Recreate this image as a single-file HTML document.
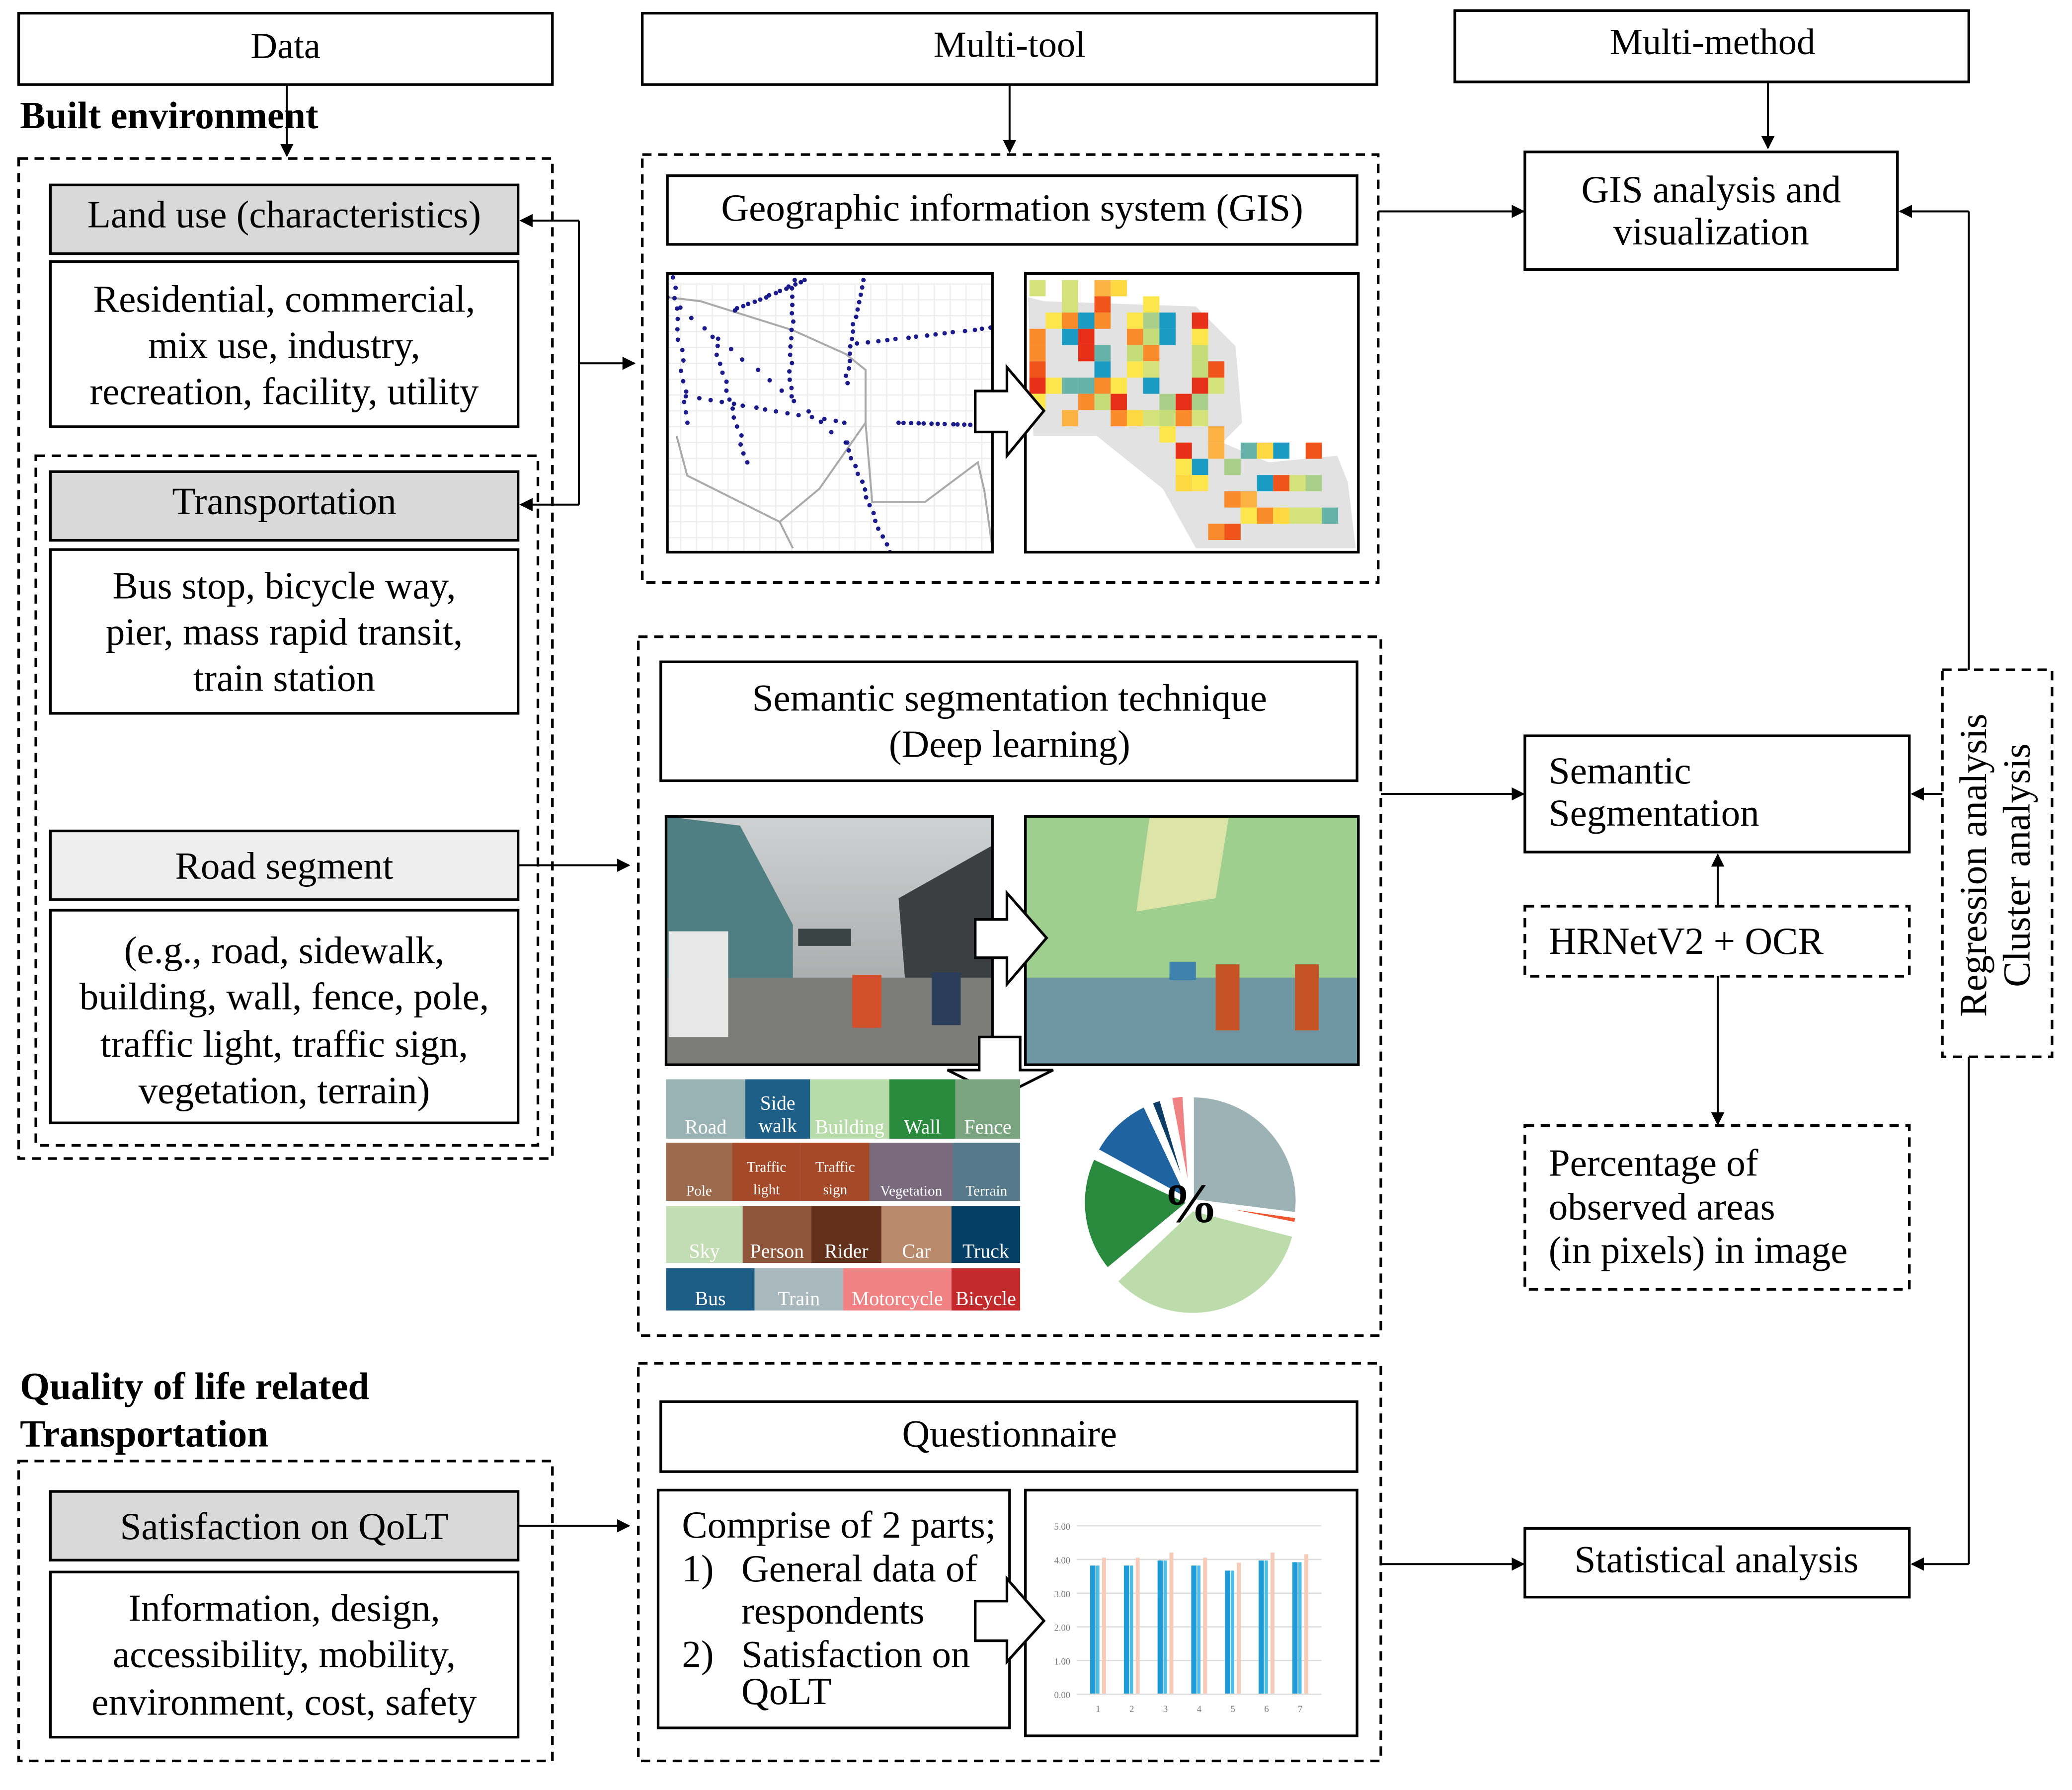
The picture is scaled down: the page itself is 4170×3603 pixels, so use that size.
<!DOCTYPE html>
<html><head><meta charset="utf-8"><style>
html,body{margin:0;padding:0;background:#fff;}
svg{display:block;}
text{font-family:"Liberation Serif",serif;}
</style></head><body>
<svg id="s" xmlns="http://www.w3.org/2000/svg" width="4170" height="3603" viewBox="0 0 1568 1355">
<defs>
<marker id="a" markerWidth="10" markerHeight="10" refX="9" refY="5" orient="auto" markerUnits="userSpaceOnUse"><path d="M0,0 L10,5 L0,10 z" fill="#000"/></marker>
<clipPath id="c1"><rect x="505" y="207" width="246" height="211"/></clipPath>
<clipPath id="c2"><rect x="776" y="207" width="252" height="211"/></clipPath>
<linearGradient id="sky" x1="0" y1="0" x2="0" y2="1"><stop offset="0" stop-color="#cfd2d2"/><stop offset="1" stop-color="#9a9c9c"/></linearGradient>
</defs>
<g fill="none" stroke="#000" stroke-width="2">
<rect x="14" y="10" width="404" height="54"/>
<rect x="486" y="10" width="556" height="54"/>
<rect x="1101" y="8" width="389" height="54"/>
</g>
<g font-size="28" text-anchor="middle" fill="#000">
<text x="216" y="44">Data</text>
<text x="764" y="43">Multi-tool</text>
<text x="1296" y="41">Multi-method</text>
</g>
<g stroke="#000" stroke-width="1.5" fill="none" marker-end="url(#a)">
<line x1="217" y1="64" x2="217" y2="118"/>
<line x1="764" y1="64" x2="764" y2="115"/>
<line x1="1338" y1="62" x2="1338" y2="112"/>
<line x1="438" y1="275" x2="480" y2="275"/>
<line x1="438" y1="167" x2="394" y2="167"/>
<line x1="438" y1="382" x2="394" y2="382"/>
<line x1="392" y1="655" x2="476" y2="655"/>
<line x1="392" y1="1155" x2="476" y2="1155"/>
<line x1="1043" y1="160" x2="1153" y2="160"/>
<line x1="1045" y1="601" x2="1153" y2="601"/>
<line x1="1045" y1="1184" x2="1153" y2="1184"/>
<line x1="1490" y1="160" x2="1438" y2="160"/>
<line x1="1490" y1="1184" x2="1447" y2="1184"/>
<line x1="1470" y1="601" x2="1447" y2="601"/>
<line x1="1300" y1="686" x2="1300" y2="647"/>
<line x1="1300" y1="739" x2="1300" y2="851"/>
</g>
<g stroke="#000" stroke-width="1.5" fill="none">
<line x1="438" y1="167" x2="438" y2="382"/>
<line x1="1490" y1="507" x2="1490" y2="160"/>
<line x1="1490" y1="800" x2="1490" y2="1184"/>
</g>
<g fill="#000" font-size="29" font-weight="bold">
<text x="15" y="97">Built environment</text>
<text x="15" y="1059">Quality of life related</text>
<text x="15" y="1095">Transportation</text>
</g>
<g fill="none" stroke="#000" stroke-width="2" stroke-dasharray="7,5">
<rect x="14" y="120" width="404" height="757"/>
<rect x="27" y="345" width="380" height="522"/>
<rect x="486" y="117" width="557" height="324"/>
<rect x="483" y="482" width="562" height="529"/>
<rect x="1154" y="686" width="291" height="53"/>
<rect x="1154" y="852" width="291" height="124"/>
<rect x="1470" y="507" width="83" height="293"/>
<rect x="14" y="1106" width="404" height="227"/>
<rect x="483" y="1032" width="562" height="301"/>
</g>
<g stroke="#000" stroke-width="2">
<rect x="38" y="140" width="354" height="52" fill="#d9d9d9"/>
<rect x="38" y="198" width="354" height="125" fill="#fff"/>
<rect x="38" y="357" width="354" height="52" fill="#d9d9d9"/>
<rect x="38" y="416" width="354" height="124" fill="#fff"/>
<rect x="38" y="629" width="354" height="52" fill="#eeeeee"/>
<rect x="38" y="689" width="354" height="161" fill="#fff"/>
<rect x="38" y="1129" width="354" height="52" fill="#d9d9d9"/>
<rect x="38" y="1190" width="354" height="125" fill="#fff"/>
<rect x="505" y="133" width="522" height="52" fill="#fff"/>
<rect x="500" y="501" width="527" height="90" fill="#fff"/>
<rect x="500" y="1061" width="527" height="53" fill="#fff"/>
<rect x="498" y="1128" width="266" height="180" fill="#fff"/>
<rect x="1154" y="115" width="282" height="89" fill="#fff"/>
<rect x="1154" y="557" width="291" height="88" fill="#fff"/>
<rect x="1154" y="1157" width="291" height="52" fill="#fff"/>
</g>
<g font-size="29" text-anchor="middle" fill="#000">
<text x="215" y="172">Land use (characteristics)</text>
<text x="215" y="236">Residential, commercial,</text>
<text x="215" y="271">mix use, industry,</text>
<text x="215" y="306">recreation, facility, utility</text>
<text x="215" y="389">Transportation</text>
<text x="215" y="453">Bus stop, bicycle way,</text>
<text x="215" y="488">pier, mass rapid transit,</text>
<text x="215" y="523">train station</text>
<text x="215" y="665">Road segment</text>
<text x="215" y="729">(e.g., road, sidewalk,</text>
<text x="215" y="764">building, wall, fence, pole,</text>
<text x="215" y="800">traffic light, traffic sign,</text>
<text x="215" y="835">vegetation, terrain)</text>
<text x="215" y="1165">Satisfaction on QoLT</text>
<text x="215" y="1227">Information, design,</text>
<text x="215" y="1262">accessibility, mobility,</text>
<text x="215" y="1298">environment, cost, safety</text>
<text x="766" y="167">Geographic information system (GIS)</text>
<text x="764" y="538">Semantic segmentation technique</text>
<text x="764" y="573">(Deep learning)</text>
<text x="764" y="1095">Questionnaire</text>
<text x="1295" y="153">GIS analysis and</text>
<text x="1295" y="185">visualization</text>
<text x="1299" y="1190">Statistical analysis</text>
</g>
<g font-size="29" fill="#000">
<text x="1172" y="593">Semantic</text>
<text x="1172" y="625">Segmentation</text>
<text x="1172" y="722">HRNetV2 + OCR</text>
<text x="1172" y="890">Percentage of</text>
<text x="1172" y="923">observed areas</text>
<text x="1172" y="956">(in pixels) in image</text>
<text x="516" y="1164">Comprise of 2 parts;</text>
<text x="516" y="1197">1)</text><text x="561" y="1197">General data of</text>
<text x="561" y="1229">respondents</text>
<text x="516" y="1262">2)</text><text x="561" y="1262">Satisfaction on</text>
<text x="561" y="1290">QoLT</text>
</g>
<g font-size="29" text-anchor="middle" fill="#000">
<text transform="translate(1503,655) rotate(-90)">Regression analysis</text>
<text transform="translate(1536,655) rotate(-90)">Cluster analysis</text>
</g>
<g id="m1" clip-path="url(#c1)"><rect x="505" y="207" width="246" height="211" fill="#fff"/></g>
<g id="m2" clip-path="url(#c2)"><rect x="776" y="207" width="252" height="211" fill="#fff"/>
<path d="M778,225 L790,228 L905,232 L935,262 L940,320 L925,335 L960,350 L1012,345 L1020,365 L1026,415 L905,415 L880,370 L830,330 L782,330 Z" fill="#e2e2e2"/></g>
<rect x="505" y="207" width="246" height="211" fill="none" stroke="#000" stroke-width="2"/>
<rect x="776" y="207" width="252" height="211" fill="none" stroke="#000" stroke-width="2"/>
<path d="M738,296 L762,296 L762,278 L790,311 L762,345 L762,327 L738,327 Z" fill="#fff" stroke="#000" stroke-width="2"/>
<rect x="504" y="618" width="247" height="188" fill="url(#sky)"/>
<path d="M504,618 L560,625 L600,700 L600,740 L504,760 Z" fill="#4f7f82"/>
<path d="M680,680 L751,640 L751,806 L690,806 Z" fill="#3c3f3f"/>
<path d="M504,740 L751,740 L751,806 L504,806 Z" fill="#7b7b78"/>
<rect x="506" y="705" width="45" height="80" fill="#e8e8e8"/>
<rect x="645" y="738" width="22" height="40" fill="#d4502a"/>
<rect x="705" y="736" width="22" height="40" fill="#2a3d5a"/>
<rect x="604" y="703" width="40" height="13" fill="#3a4444"/>
<rect x="504" y="618" width="247" height="188" fill="none" stroke="#000" stroke-width="2"/>
<rect x="776" y="618" width="252" height="188" fill="#9fcf8e"/>
<path d="M870,618 L930,618 L920,680 L860,690 Z" fill="#dde4a7"/>
<path d="M776,740 L1028,740 L1028,806 L776,806 Z" fill="#6f96a3"/>
<rect x="920" y="730" width="18" height="50" fill="#c65326"/>
<rect x="980" y="730" width="18" height="50" fill="#c65326"/>
<rect x="885" y="728" width="20" height="14" fill="#3d83ad"/>
<rect x="776" y="618" width="252" height="188" fill="none" stroke="#000" stroke-width="2"/>
<path d="M738,696 L762,696 L762,676 L792,710 L762,745 L762,725 L738,725 Z" fill="#fff" stroke="#000" stroke-width="2"/>
<path d="M741,785 L772,785 L772,810 L797,810 L757,830 L717,810 L741,810 Z" fill="#fff" stroke="#000" stroke-width="2"/>
<g id="leg" text-anchor="middle"></g>
<g id="pie"></g>
<text x="901" y="925" font-size="42" font-weight="bold" text-anchor="middle" fill="#000">%</text>
<rect x="776" y="1128" width="251" height="186" fill="#fff" stroke="#000" stroke-width="2"/>
<g id="ch"></g>
<path d="M738,1212 L762,1212 L762,1195 L790,1227 L762,1258 L762,1242 L738,1242 Z" fill="#fff" stroke="#000" stroke-width="2"/>
</svg>
<script>
var NS="http://www.w3.org/2000/svg";
function el(p,t,a,tx){var e=document.createElementNS(NS,t);for(var k in a)e.setAttribute(k,a[k]);if(tx)e.textContent=tx;p.appendChild(e);return e;}
var seed=7;function r(){seed=(seed*9301+49297)%233280;return seed/233280;}
var m1=document.getElementById('m1');
for(var x=515;x<750;x+=12)el(m1,'line',{x1:x,y1:215,x2:x,y2:418,stroke:'#eee','stroke-width':1});
for(var y=215;y<418;y+=12)el(m1,'line',{x1:505,y1:y,x2:751,y2:y,stroke:'#eee','stroke-width':1});
el(m1,'path',{d:'M505,225 L530,228 L600,250 L640,268 L655,280 L655,320 L660,380 L700,380 L740,350 L745,372 L751,415 M512,330 L520,360 L560,380 L590,395 L620,370 L655,320 M590,395 L600,415',fill:'none',stroke:'#aaa','stroke-width':1.5});
var lines=[[505,225,640,335],[510,210,520,320],[565,350,540,255],[640,335,673,418],[600,212,598,300],[652,212,640,290],[650,260,751,248],[520,300,640,320],[680,320,751,322],[610,212,555,235]];
lines.forEach(function(l){for(var i=0;i<=14;i++){var t=i/14;el(m1,'circle',{cx:l[0]+(l[2]-l[0])*t+(r()-.5)*3,cy:l[1]+(l[3]-l[1])*t,r:1.7,fill:'#1a1a8a'});}});
var m2=document.getElementById('m2');
var cols=['#d3e27a','#a9cf8a','#fdb344','#fdd840','#fde64b','#f98b2d','#f1541b','#e83018','#66b2a8','#1a9bc4','#c4dd78'];
var cells=[[0,0],[2,0],[4,0],[5,0],[2,1],[4,1],[7,1],[1,2],[2,2],[3,2],[4,2],[6,2],[7,2],[8,2],[10,2],[0,3],[2,3],[3,3],[6,3],[7,3],[8,3],[10,3],[0,4],[3,4],[4,4],[6,4],[7,4],[10,4],[0,5],[4,5],[6,5],[7,5],[10,5],[11,5],[0,6],[1,6],[2,6],[3,6],[4,6],[5,6],[7,6],[10,6],[11,6],[0,7],[3,7],[4,7],[5,7],[8,7],[9,7],[10,7],[2,8],[5,8],[6,8],[7,8],[8,8],[9,8],[10,8],[8,9],[11,9],[9,10],[11,10],[13,10],[14,10],[15,10],[17,10],[9,11],[10,11],[12,11],[9,12],[10,12],[14,12],[15,12],[16,12],[17,12],[12,13],[13,13],[13,14],[14,14],[15,14],[16,14],[17,14],[18,14],[11,15],[12,15]];
var sz=12.3;
cells.forEach(function(c){el(m2,'rect',{x:779+c[0]*sz,y:212+c[1]*sz,width:sz,height:sz,fill:cols[Math.floor(r()*cols.length)]});});
var leg=document.getElementById('leg');
var rows=[[817,45,[['Road',60,'#99b2b4'],['Side walk',49,'#1e5f88'],['Building',60,'#b8dca9'],['Wall',50,'#2a8a3e'],['Fence',49,'#7aa37f']]],
[865,44,[['Pole',50,'#9c6a4c'],['Traffic light',52,'#a44a28'],['Traffic sign',52,'#a44a28'],['Vegetation',63,'#7a6a7e'],['Terrain',51,'#567a8a']]],
[913,43,[['Sky',58,'#c2ddb4'],['Person',52,'#8e553b'],['Rider',53,'#63301c'],['Car',53,'#ba8a6c'],['Truck',52,'#063f66']]],
[960,32,[['Bus',67,'#1d5d86'],['Train',67,'#a8b8bc'],['Motorcycle',82,'#f08283'],['Bicycle',52,'#c2292a']]]];
rows.forEach(function(rw){var x=504;rw[2].forEach(function(c){el(leg,'rect',{x:x,y:rw[0],width:c[1],height:rw[1],fill:c[2]});var w=c[0].split(' ');if(w.length==2){el(leg,'text',{x:x+c[1]/2,y:rw[0]+rw[1]-22,fill:'#fff','font-size':rw[0]==865?11:15},w[0]);el(leg,'text',{x:x+c[1]/2,y:rw[0]+rw[1]-5,fill:'#fff','font-size':rw[0]==865?11:15},w[1]);}else el(leg,'text',{x:x+c[1]/2,y:rw[0]+rw[1]-4,fill:'#fff','font-size':rw[0]==865?11:15},c[0]);x+=c[1];});});
var pie=document.getElementById('pie');var cx=901,cy=910,R=79;
var sl=[[0,0.27,'#9cb2b4'],[0.272,0.282,'#f0562f'],[0.29,0.63,'#bcdcab'],[0.64,0.82,'#2a8a3e'],[0.83,0.93,'#1f64a0'],[0.94,0.955,'#0e3d66'],[0.97,0.99,'#f08283']];
sl.forEach(function(s){var a0=s[0]*2*Math.PI-Math.PI/2,a1=s[1]*2*Math.PI-Math.PI/2;var m=(a0+a1)/2,off=s[2]=='#bcdcab'?6:2;var ox=Math.cos(m)*off,oy=Math.sin(m)*off;
el(pie,'path',{d:'M'+(cx+ox)+','+(cy+oy)+' L'+(cx+ox+R*Math.cos(a0))+','+(cy+oy+R*Math.sin(a0))+' A'+R+','+R+' 0 '+((s[1]-s[0])>0.5?1:0)+' 1 '+(cx+ox+R*Math.cos(a1))+','+(cy+oy+R*Math.sin(a1))+' Z',fill:s[2],stroke:'#fff','stroke-width':2});});
var ch=document.getElementById('ch');
var labs=['5.00','4.00','3.00','2.00','1.00','0.00'];
for(var i=0;i<6;i++){var y=1155+i*25.5;el(ch,'line',{x1:815,y1:y,x2:1000,y2:y,stroke:'#ddd','stroke-width':1});el(ch,'text',{x:810,y:y+3,'font-size':7,'text-anchor':'end',fill:'#777'},labs[i]);}
var hs=[3.8,3.8,3.95,3.8,3.65,3.95,3.9];
for(var g=0;g<7;g++){var x=825+g*25.5;var h=hs[g]*25.5;
el(ch,'rect',{x:x,y:1282-h,width:4,height:h,fill:'#1f9bd7'});
el(ch,'rect',{x:x+4.5,y:1282-h,width:2.5,height:h,fill:'#4cbce8'});
el(ch,'rect',{x:x+9,y:1282-h-6,width:3,height:h+6,fill:'#f7cbb8'});
el(ch,'text',{x:x+6,y:1296,'font-size':7,'text-anchor':'middle',fill:'#777'},String(g+1));}
</script>
</body></html>
